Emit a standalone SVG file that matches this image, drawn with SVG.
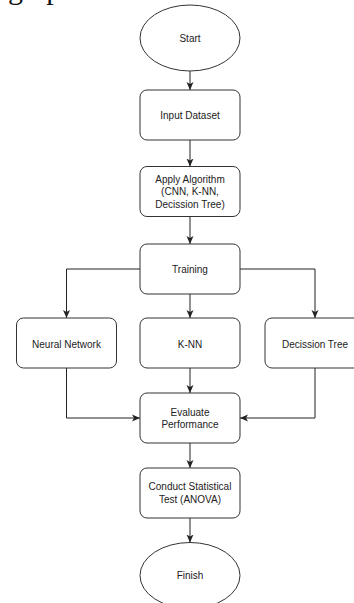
<svg xmlns="http://www.w3.org/2000/svg" width="354" height="603" viewBox="0 0 354 603">
<defs>
<style>
.shape{fill:#fff;stroke:#333;stroke-width:1}
.lbl{font-family:"Liberation Sans",Arial,sans-serif;font-size:10px;fill:#222;text-anchor:middle}
.edge{fill:none;stroke:#222;stroke-width:1}
.page{font-family:"Liberation Serif","Times New Roman",serif;font-size:30px;fill:#111}
</style>
<marker id="arr" markerUnits="userSpaceOnUse" markerWidth="8" markerHeight="8" viewBox="0 0 8 8" refX="8" refY="4" orient="auto">
<path d="M0,0.5 L8,4 L0,7.5 L2,4 Z" fill="#222"/>
</marker>
</defs>
<rect width="354" height="603" fill="#fff"/>
<text class="page" x="8" y="-1">graph</text>
<g id="connectors">
<path class="edge" d="M190,71 V90" marker-end="url(#arr)"/>
<path class="edge" d="M190,140 V166.5" marker-end="url(#arr)"/>
<path class="edge" d="M190,216.5 V244" marker-end="url(#arr)"/>
<path class="edge" d="M190,294 V318" marker-end="url(#arr)"/>
<path class="edge" d="M140,269 H66.5 V318" marker-end="url(#arr)"/>
<path class="edge" d="M240,269 H315 V318" marker-end="url(#arr)"/>
<path class="edge" d="M190,368 V393" marker-end="url(#arr)"/>
<path class="edge" d="M66.5,368 V418 H140" marker-end="url(#arr)"/>
<path class="edge" d="M315,368 V418 H240" marker-end="url(#arr)"/>
<path class="edge" d="M190,443 V468" marker-end="url(#arr)"/>
<path class="edge" d="M190,518 V542.5" marker-end="url(#arr)"/>
</g>
<g id="start"><ellipse class="shape" cx="190" cy="38" rx="50" ry="33"/><text class="lbl" x="190" y="41.5">Start</text></g>
<g id="input"><rect class="shape" x="140" y="90" width="100" height="50" rx="7"/><text class="lbl" x="190" y="119">Input Dataset</text></g>
<g id="apply"><rect class="shape" x="140" y="166.5" width="100" height="50" rx="7"/><text class="lbl" x="190" y="182.5">Apply Algorithm</text><text class="lbl" x="190" y="195">(CNN, K-NN,</text><text class="lbl" x="190" y="207.5">Decission Tree)</text></g>
<g id="training"><rect class="shape" x="140" y="244" width="100" height="50" rx="7"/><text class="lbl" x="190" y="272.5">Training</text></g>
<g id="nn"><rect class="shape" x="16.5" y="318" width="100" height="50" rx="7"/><text class="lbl" x="66.5" y="347.5">Neural Network</text></g>
<g id="knn"><rect class="shape" x="140" y="318" width="100" height="50" rx="7"/><text class="lbl" x="190" y="347.5">K-NN</text></g>
<g id="dt"><rect class="shape" x="265" y="318" width="100" height="50" rx="7"/><text class="lbl" x="315" y="347.5">Decission Tree</text></g>
<g id="evaluate"><rect class="shape" x="140" y="393" width="100" height="50" rx="7"/><text class="lbl" x="190" y="415.5">Evaluate</text><text class="lbl" x="190" y="427.5">Performance</text></g>
<g id="anova"><rect class="shape" x="140" y="468" width="100" height="50" rx="7"/><text class="lbl" x="190" y="490">Conduct Statistical</text><text class="lbl" x="190" y="502.5">Test (ANOVA)</text></g>
<g id="finish"><ellipse class="shape" cx="190" cy="575.5" rx="50" ry="33"/><text class="lbl" x="190" y="579">Finish</text></g>
</svg>
